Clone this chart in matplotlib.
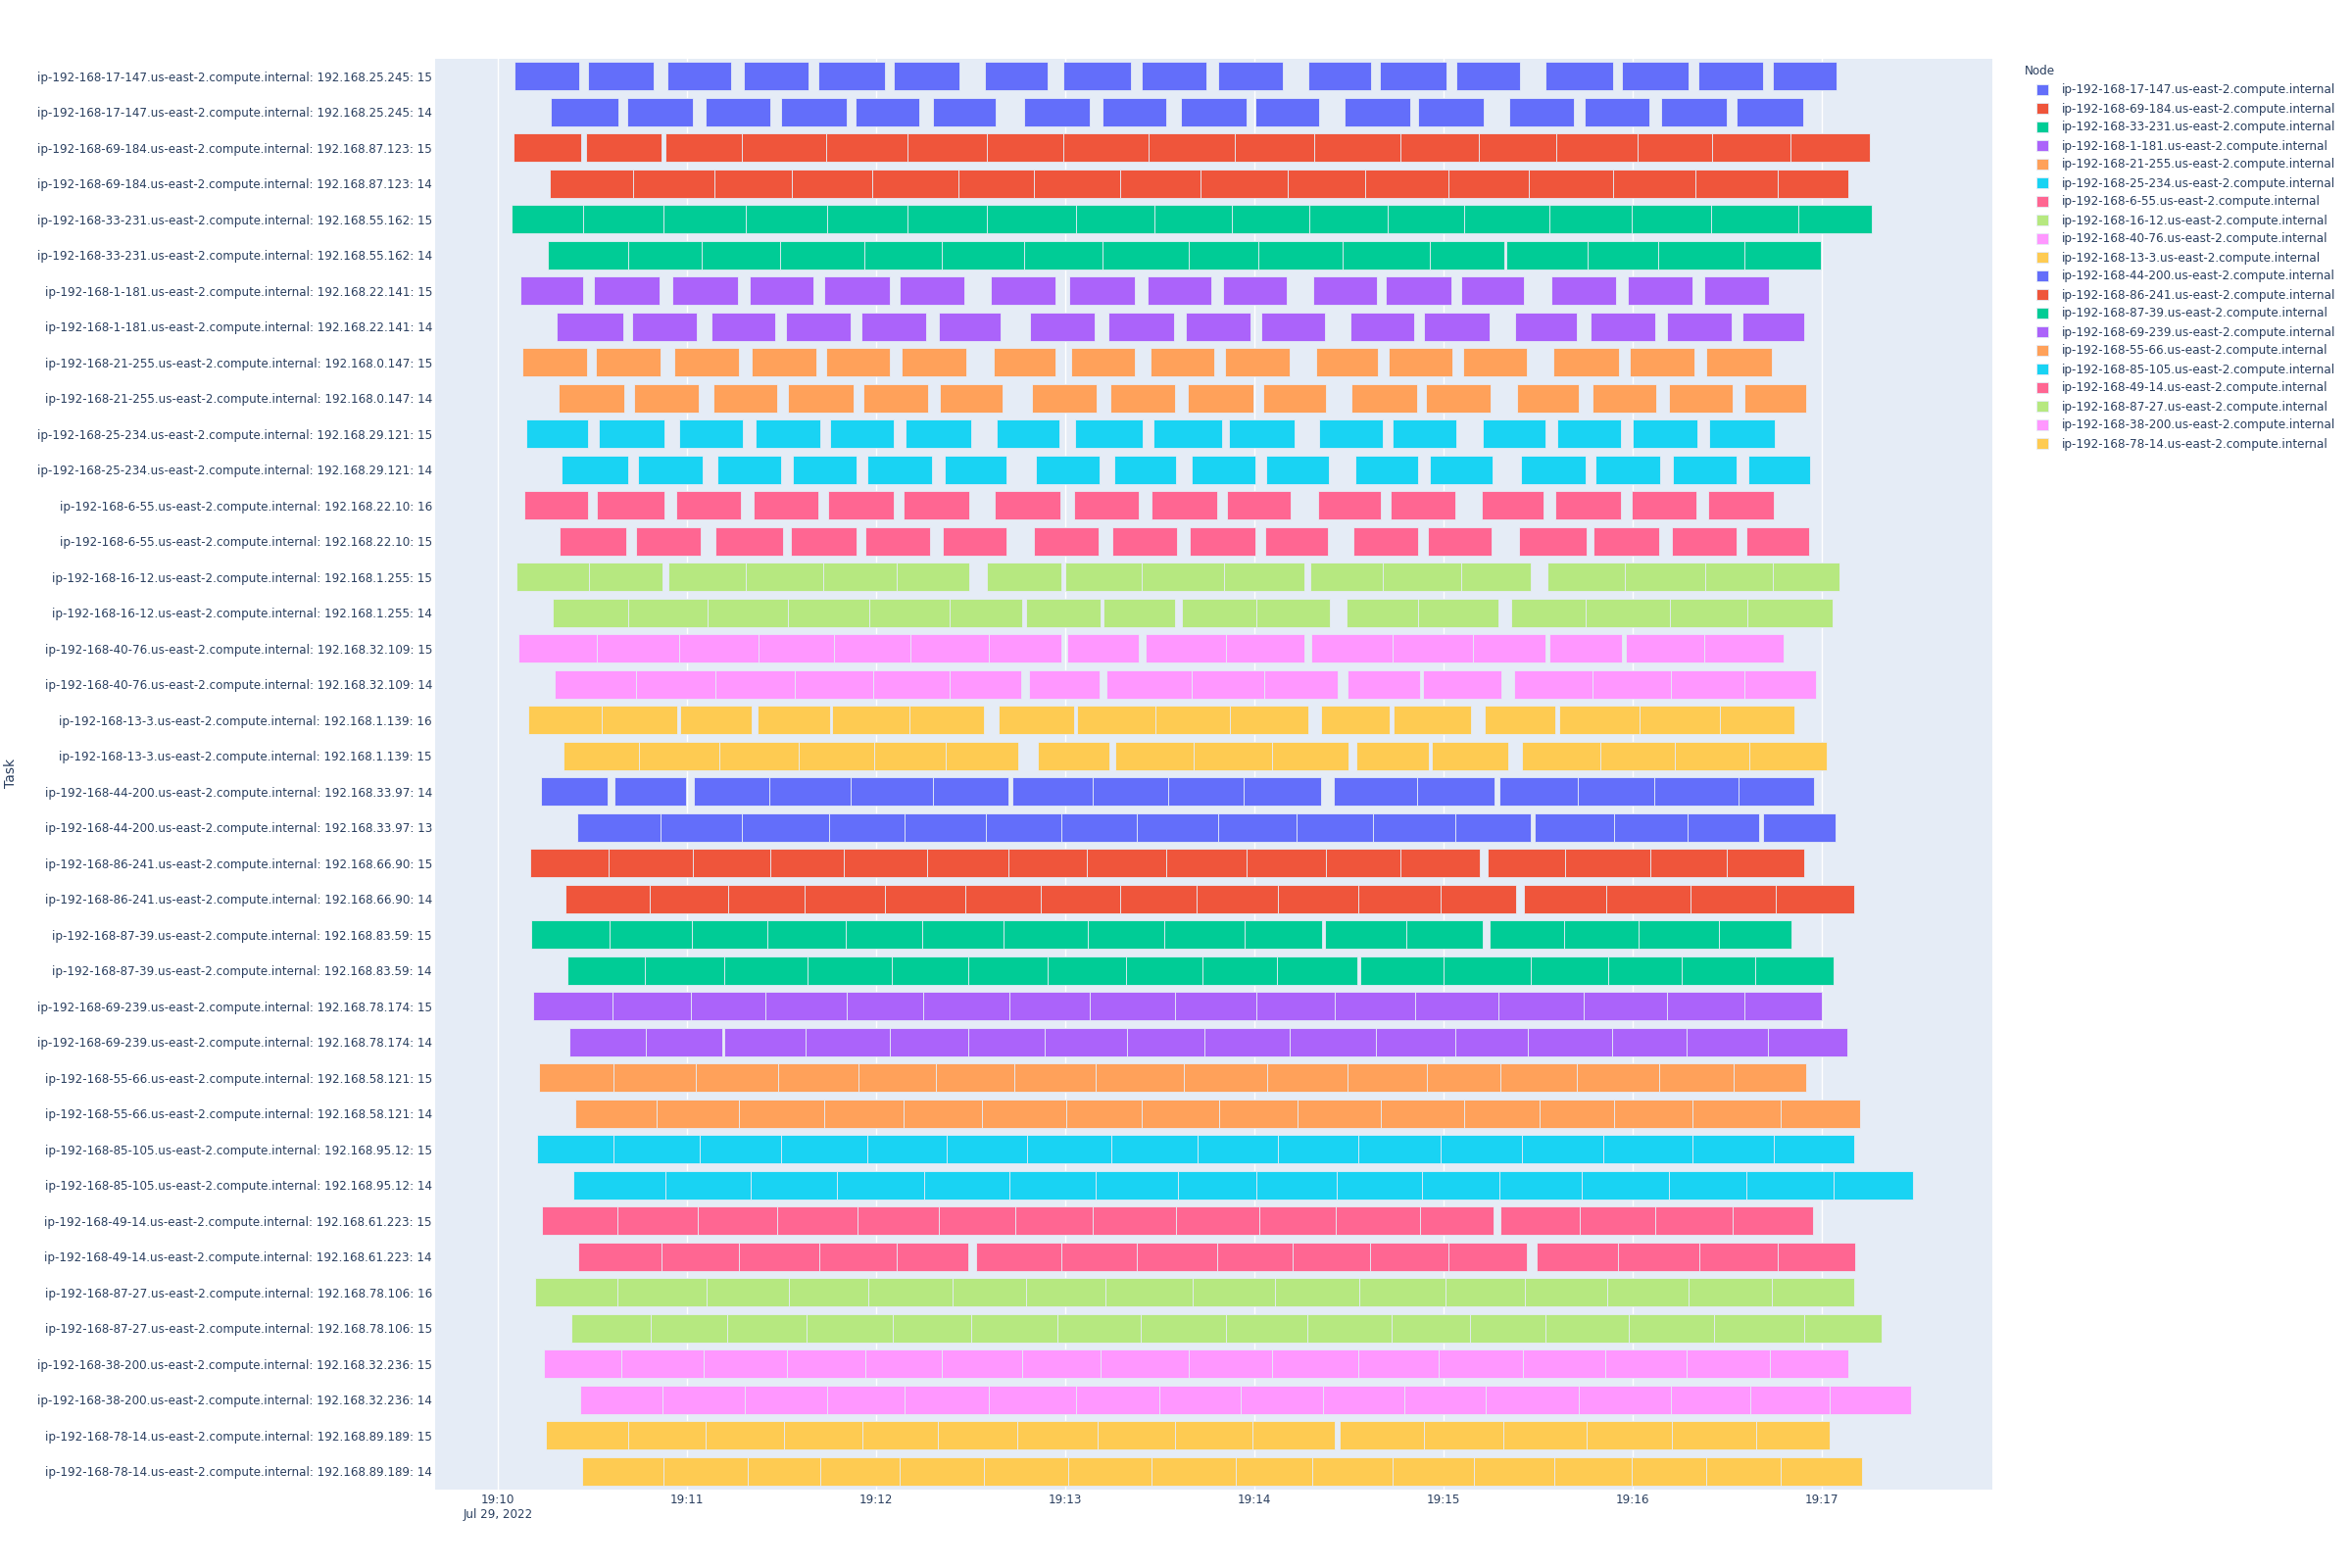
import datetime as dt
import matplotlib
matplotlib.use("Agg")
import matplotlib.pyplot as plt
import matplotlib.dates as mdates
from matplotlib.patches import Patch

# one node per pair of task rows, listed top to bottom
nodes = ["ip-192-168-17-147", "ip-192-168-69-184", "ip-192-168-33-231", "ip-192-168-1-181",
         "ip-192-168-21-255", "ip-192-168-25-234", "ip-192-168-6-55", "ip-192-168-16-12",
         "ip-192-168-40-76", "ip-192-168-13-3", "ip-192-168-44-200", "ip-192-168-86-241",
         "ip-192-168-87-39", "ip-192-168-69-239", "ip-192-168-55-66", "ip-192-168-85-105",
         "ip-192-168-49-14", "ip-192-168-87-27", "ip-192-168-38-200", "ip-192-168-78-14"]
pod_ips = ["192.168.25.245", "192.168.87.123", "192.168.55.162", "192.168.22.141",
           "192.168.0.147", "192.168.29.121", "192.168.22.10", "192.168.1.255",
           "192.168.32.109", "192.168.1.139", "192.168.33.97", "192.168.66.90",
           "192.168.83.59", "192.168.78.174", "192.168.58.121", "192.168.95.12",
           "192.168.61.223", "192.168.78.106", "192.168.32.236", "192.168.89.189"]
task_suffix = [15, 14, 15, 14, 15, 14, 15, 14, 15, 14, 15, 14, 16, 15, 15, 14, 15, 14, 16, 15,
               14, 13, 15, 14, 15, 14, 15, 14, 15, 14, 15, 14, 15, 14, 16, 15, 15, 14, 15, 14]

# seconds after 19:10:00 -- each inner list is a run of back-to-back tasks
task_runs = [
    [[5.4, 25.8], [28.6, 49.3], [53.6, 74.1], [78.0, 98.4], [101.7, 122.9], [125.6, 146.3], [154.6, 174.4], [179.3, 200.8], [204.1, 224.6], [228.3, 249.1], [256.9, 277.0], [279.8, 300.7], [304.0, 324.1], [332.3, 353.6], [356.5, 377.5], [380.7, 401.2], [404.5, 424.6]],
    [[16.7, 38.1], [40.9, 61.8], [65.9, 86.4], [89.8, 110.6], [113.4, 133.6], [137.9, 157.9], [166.9, 187.6], [191.6, 212.0], [216.7, 237.5], [240.3, 260.5], [268.6, 289.3], [291.9, 312.6], [320.8, 341.2], [344.7, 365.3], [369.0, 389.9], [392.9, 414.0]],
    [[5.0, 26.4], [28.0, 51.8], [53.0, 77.5, 104.2, 130.0, 155.1, 179.4, 206.4, 233.6, 258.9, 286.4, 311.2, 335.8, 361.6, 385.1, 410.0, 435.0]],
    [[16.3, 42.8, 68.8, 93.3, 118.7, 146.0, 169.9, 197.2, 222.7, 250.6, 275.2, 301.6, 326.9, 353.7, 379.8, 405.8, 428.4]],
    [[4.4, 27.1, 52.5, 78.6, 104.3, 130.0, 155.1, 183.5, 208.3, 232.7, 257.2, 282.3, 306.6, 333.5, 359.7, 384.9, 412.5, 435.6]],
    [[15.7, 41.2, 64.6, 89.6, 116.3, 140.8, 166.9, 191.7, 219.2, 241.3, 268.0, 295.6, 319.1], [319.8, 345.5, 367.9, 395.5, 419.6]],
    [[7.2, 27.0], [30.4, 51.2], [55.3, 76.1], [79.8, 100.2], [103.6, 124.4], [127.5, 147.9], [156.4, 176.8], [181.2, 201.9], [206.0, 226.4], [229.9, 250.3], [258.6, 278.7], [281.7, 302.4], [305.6, 325.5], [334.0, 354.6], [358.4, 378.8], [382.6, 403.1]],
    [[18.6, 39.6], [42.5, 63.1], [67.8, 87.9], [91.5, 111.9], [115.2, 135.7], [139.7, 159.5], [168.9, 189.2], [193.5, 214.5], [218.3, 238.7], [242.1, 262.2], [270.4, 290.6], [293.8, 314.5], [322.7, 342.3], [346.5, 367.0], [370.9, 391.3], [394.6, 414.3]],
    [[7.8, 28.3], [31.1, 51.6], [56.0, 76.4], [80.5, 100.9], [104.2, 124.4], [128.1, 148.6], [157.1, 176.8], [181.9, 202.0], [206.9, 227.1], [230.5, 251.0], [259.4, 279.0], [282.4, 302.6], [306.2, 326.3], [334.8, 355.5], [359.0, 379.5], [383.2, 403.9]],
    [[19.1, 40.1], [43.1, 63.8], [68.4, 88.5], [92.1, 112.7], [115.8, 136.3], [140.3, 160.2], [169.4, 189.8], [194.1, 214.6], [218.9, 239.7], [242.6, 262.5], [270.8, 291.4], [294.4, 314.8], [323.2, 342.8], [347.1, 367.3], [371.4, 391.5], [395.4, 414.9]],
    [[9.0, 28.6], [32.1, 52.7], [57.4, 77.6], [81.6, 102.3], [105.3, 125.6], [129.4, 150.2], [158.3, 178.1], [183.2, 204.5], [208.0, 229.6], [231.8, 252.6], [260.5, 280.5], [283.7, 304.1], [312.5, 332.3], [335.9, 356.3], [360.0, 380.5], [384.2, 404.9]],
    [[20.2, 41.4], [44.3, 64.8], [69.5, 89.8], [93.5, 113.7], [117.2, 137.6], [141.6, 161.4], [170.6, 190.7], [195.4, 215.1], [219.9, 240.2], [243.8, 263.5], [271.8, 291.9], [295.5, 315.6], [324.4, 344.9], [348.1, 368.7], [372.6, 393.0], [396.5, 416.2]],
    [[8.4, 28.6], [31.5, 52.7], [56.6, 76.9], [81.1, 101.7], [104.7, 125.6], [128.7, 149.5], [157.6, 178.5], [182.6, 203.3], [207.4, 228.1], [231.2, 251.4], [260.0, 280.1], [283.1, 303.7], [312.0, 331.5], [335.4, 356.2], [359.6, 380.1], [383.8, 404.6]],
    [[19.7, 40.8], [43.9, 64.4], [69.0, 90.4], [92.9, 113.7], [116.6, 137.2], [141.0, 161.4], [170.0, 190.4], [194.8, 215.4], [219.3, 240.3], [243.2, 263.3], [271.4, 291.8], [295.0, 315.0], [323.8, 345.2], [347.5, 368.4], [372.2, 393.0], [395.9, 415.8]],
    [[6.0, 28.9, 52.2], [54.1, 78.5, 103.1, 126.6, 149.5], [155.2, 178.7], [179.9, 204.2, 230.2, 255.7], [257.5, 280.6, 305.4, 327.7], [333.0, 357.5, 382.9, 404.5, 425.4]],
    [[17.5, 41.4, 66.5, 92.1, 117.7, 143.3, 166.2], [167.5, 191.0], [192.2, 214.8], [217.0, 240.6, 263.8], [269.1, 291.9, 317.3], [321.4, 345.0, 371.6, 396.2, 423.2]],
    [[6.6, 31.4, 57.5, 82.5, 106.7, 130.7, 155.8, 178.7], [180.6, 203.2], [205.4, 230.8, 255.7], [258.0, 283.9, 309.2, 332.3], [333.5, 356.6], [357.8, 382.7, 407.8]],
    [[18.0, 43.9, 69.1, 94.2, 119.0, 143.3, 166.1], [168.3, 190.7], [192.9, 220.1, 243.1, 266.3], [269.6, 292.4], [293.3, 318.2], [322.2, 347.1, 371.9, 395.2, 418.1]],
    [[9.5, 32.9, 56.8], [57.8, 80.5], [82.2, 105.3], [105.9, 130.6, 154.0], [158.9, 182.8], [183.8, 208.6, 232.1, 256.9], [261.1, 282.8], [284.2, 308.5], [313.1, 335.4], [336.5, 362.1, 387.7, 411.2]],
    [[20.8, 44.6, 70.3, 95.4, 119.3, 142.0, 165.0], [171.1, 193.9], [195.8, 220.6, 245.6, 269.9], [272.4, 295.3], [296.2, 320.3], [324.9, 349.7, 373.4, 396.8, 421.5]],
    [[13.5, 34.9], [37.1, 59.6], [62.2, 86.0, 111.9, 137.9, 162.0], [163.3, 188.5, 212.6, 236.6, 261.0], [265.2, 291.5, 316.1], [317.5, 342.5, 366.6, 393.6, 417.5]],
    [[25.1, 51.6, 77.3, 105.0, 129.1, 154.8, 178.8, 202.7, 228.4, 253.4, 277.4, 303.5, 327.6], [328.9, 354.1, 377.2, 399.9], [401.2, 424.3]],
    [[10.1, 35.2, 61.9, 86.3, 109.6, 136.1, 161.8, 186.8, 212.0, 237.4, 262.7, 286.4, 311.3], [313.8, 338.6, 365.6, 389.8, 414.4]],
    [[21.4, 48.3, 72.9, 97.4, 122.8, 148.2, 172.1, 197.2, 221.7, 247.5, 273.0, 299.0, 322.9], [325.5, 351.5, 378.2, 405.2, 430.3]],
    [[10.6, 35.4, 61.5, 85.4, 110.3, 134.7, 160.3, 187.2, 211.3, 236.9, 261.3], [262.3, 288.0, 312.3], [314.4, 338.3, 361.9, 387.4, 410.3]],
    [[22.0, 46.7, 71.7, 98.3, 124.8, 149.3, 174.3, 199.1, 223.4, 247.2, 272.6], [273.5, 300.0, 327.6, 352.2, 375.4, 398.9, 423.7]],
    [[11.2, 36.4, 61.2, 84.8, 110.6, 135.0, 162.3, 187.8, 214.6, 240.4, 265.5, 290.9, 317.2, 344.5, 370.7, 395.5, 420.0]],
    [[22.7, 46.9, 71.0], [71.9, 97.7, 124.3, 149.2, 173.3, 199.4, 224.0, 251.0, 278.6, 303.5, 326.7, 353.3, 377.0, 402.7, 427.9]],
    [[13.1, 36.7, 62.9, 88.9, 114.3, 138.9, 163.9, 189.5, 217.6, 244.1, 269.5, 294.7, 318.0, 342.1, 368.2, 391.8, 414.9]],
    [[24.4, 50.3, 76.4, 103.6, 128.8, 153.6, 180.3, 204.2, 228.7, 253.5, 280.1, 306.6, 330.5, 354.1, 378.9, 406.8, 432.0]],
    [[12.5, 36.8, 64.0, 89.8, 117.1, 142.3, 167.7, 194.5, 222.0, 247.3, 273.0, 299.0, 324.8, 350.6, 378.8, 404.7, 430.3]],
    [[23.8, 53.1, 80.2, 107.4, 135.1, 162.3, 189.5, 215.8, 240.7, 266.0, 293.0, 317.5, 343.9, 371.4, 396.1, 423.7, 448.8]],
    [[13.9, 37.9, 63.5, 88.6, 114.0, 139.8, 164.2, 188.5, 215.1, 241.6, 265.7, 292.4, 315.8], [318.0, 343.1, 367.2, 391.7, 417.1]],
    [[25.5, 51.9, 76.4, 101.8, 126.6, 149.3], [151.7, 178.7, 202.6, 228.0, 252.0, 276.7, 301.6, 326.4], [329.3, 355.2, 381.0, 405.8, 430.4]],
    [[11.9, 38.0, 66.2, 92.3, 117.4, 144.2, 167.5, 192.8, 220.2, 246.5, 273.2, 300.6, 325.8, 351.9, 377.6, 403.9, 430.3]],
    [[23.2, 48.4, 72.8, 98.0, 125.3, 150.1, 177.4, 203.9, 230.8, 256.6, 283.6, 308.4, 332.3, 358.8, 385.8, 414.3, 438.8]],
    [[14.7, 39.2, 65.1, 91.7, 116.6, 140.7, 166.4, 191.0, 219.0, 245.4, 273.0, 298.4, 325.1, 351.1, 376.9, 403.3, 428.2]],
    [[26.1, 52.1, 78.2, 104.3, 129.0, 155.8, 183.5, 209.8, 235.5, 261.7, 287.5, 313.4, 342.7, 371.9, 397.3, 422.5, 448.3]],
    [[15.3, 41.4, 66.0, 90.7, 115.6, 139.5, 164.7, 190.3, 214.9, 239.4, 265.5], [267.0, 293.7, 318.9, 345.3, 372.5, 399.2, 422.4]],
    [[26.7, 52.4, 79.2, 102.3, 127.5, 154.2, 180.9, 207.3, 234.0, 258.2, 283.7, 309.5, 335.2, 359.7, 383.3, 406.9, 432.6]],
]

palette = ['#636EFA', '#EF553B', '#00CC96', '#AB63FA', '#FFA15A',
           '#19D3F3', '#FF6692', '#B6E880', '#FF97FF', '#FECB52']
text_col = '#2a3f5f'
bg = '#E5ECF6'

t0 = mdates.date2num(dt.datetime(2022, 7, 29, 19, 10, 0))
day = 86400.0

plt.rcParams['font.family'] = 'DejaVu Sans'

fig = plt.figure(figsize=(24, 16), dpi=100)
ax = fig.add_axes([0.1849, 0.0503, 0.8471 - 0.1849, 0.9628 - 0.0503])
ax.set_facecolor(bg)

labels = []
for i, runs in enumerate(task_runs):
    n = i // 2
    labels.append(f"{nodes[n]}.us-east-2.compute.internal: {pod_ips[n]}: {task_suffix[i]}")
    bars = []
    for run in runs:
        for a, b in zip(run[:-1], run[1:]):
            bars.append((t0 + a / day, (b - a) / day))
    ax.broken_barh(bars, (i - 0.4, 0.8), facecolors=palette[n % 10],
                   edgecolor=bg, linewidth=0.6)

ax.set_ylim(39.5, -0.5)
ax.set_xlim(t0 - 20 / day, t0 + 474 / day)
ax.set_yticks(range(len(labels)))
ax.set_yticklabels(labels)

ax.xaxis.set_major_locator(mdates.MinuteLocator())
def fmt(x, pos):
    s = mdates.num2date(x).strftime('%H:%M')
    if pos == 0:
        s += '\n' + mdates.num2date(x).strftime('%b %d, %Y')
    return s
ax.xaxis.set_major_formatter(plt.FuncFormatter(fmt))

ax.grid(axis='x', color='white', linewidth=1.0)
ax.set_axisbelow(True)
for sp in ax.spines.values():
    sp.set_visible(False)
ax.tick_params(axis='y', length=0, pad=2, labelsize=8.6, labelcolor=text_col)
ax.tick_params(axis='x', length=0, pad=3, labelsize=8.6, labelcolor=text_col)

fig.text(0.0045, 0.507, 'Task', rotation=90, ha='center', va='center',
         fontsize=10, color=text_col)

# legend: one entry per node
fig.text(2066 / 2400, 1 - 66 / 1600, 'Node', ha='left', va='top',
         fontsize=8.64, color=text_col)
handles = [Patch(facecolor=palette[k % 10], edgecolor=bg, linewidth=0.6,
                 label=f"{nodes[k]}.us-east-2.compute.internal") for k in range(len(nodes))]
leg = fig.legend(handles=handles, loc='upper left', bbox_to_anchor=(2078 / 2400, 1 - 85.5 / 1600),
                 frameon=False, fontsize=8.64, handlelength=1.0, handleheight=1.0,
                 handletextpad=1.15, labelspacing=0.5, borderpad=0, borderaxespad=0)
for t in leg.get_texts():
    t.set_color(text_col)

fig.savefig('out.png', dpi=100, facecolor='white')
